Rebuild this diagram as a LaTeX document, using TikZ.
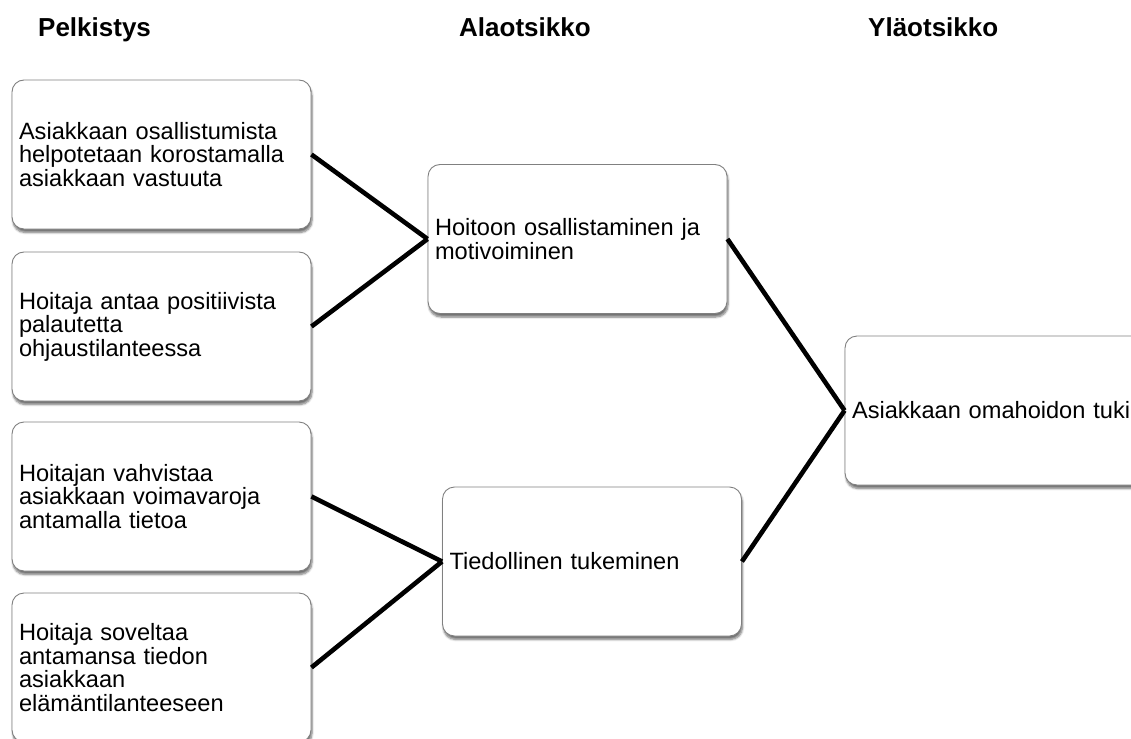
\documentclass[tikz,border=0pt]{standalone}
\usepackage{fontspec}
\setmainfont{Liberation Sans}
\usetikzlibrary{shadows.blur}
\tikzset{
  box/.style={draw=black!50, line width=0.9pt, fill=white, rounded corners=12pt,
    minimum width=299pt, minimum height=149pt, text width=285pt, inner xsep=7pt,
    align=left, font=\fontsize{23.6}{23.4}\selectfont,
    blur shadow={shadow xshift=1pt, shadow yshift=-3.5pt, shadow blur steps=6, shadow opacity=55}},
  head/.style={anchor=base west, inner sep=0pt, font=\fontsize{26}{28}\selectfont\bfseries},
  link/.style={line width=4.6pt, black}
}
\begin{document}
\begin{tikzpicture}[x=1pt,y=-1pt]
\useasboundingbox (0,0) rectangle (1131,738);
\node[head] (h1) at (38,37) {Pelkistys};
\node[head] (h2) at (459,37) {Alaotsikko};
\node[head] (h3) at (868,37) {Yläotsikko};

\node[box] (b1) at (161.5,154.5) {Asiakkaan osallistumista\\helpotetaan korostamalla\\asiakkaan vastuuta};
\node[box] (b2) at (161.5,326.5) {Hoitaja antaa positiivista\\palautetta\\ohjaustilanteessa};
\node[box] (b3) at (161.5,496.5) {Hoitajan vahvistaa\\asiakkaan voimavaroja\\antamalla tietoa};
\node[box] (b4) at (161.5,667.5) {Hoitaja soveltaa\\antamansa tiedon\\asiakkaan\\elämäntilanteeseen};

\node[box] (A) at (577.5,239) {Hoitoon osallistaminen ja\\motivoiminen};
\node[box] (B) at (592,561.5) {Tiedollinen tukeminen};
\node[box] (C) at (994.5,410.5) {Asiakkaan omahoidon tuki};

\draw[link] (b1.east) -- (A.west);
\draw[link] (b2.east) -- (A.west);
\draw[link] (b3.east) -- (B.west);
\draw[link] (b4.east) -- (B.west);
\draw[link] (A.east) -- (C.west);
\draw[link] (B.east) -- (C.west);
\end{tikzpicture}
\end{document}
